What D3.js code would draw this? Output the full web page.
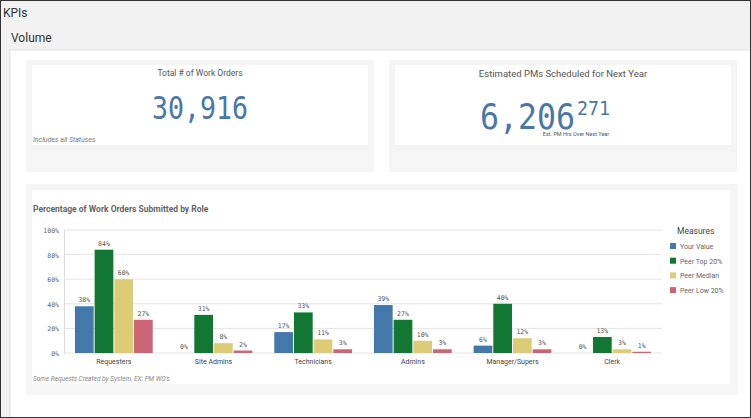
<!DOCTYPE html>
<html><head><meta charset="utf-8">
<script src="https://cdn.jsdelivr.net/npm/d3@7"></script>
<style>body{margin:0;background:#fff;}svg{display:block;}</style>
</head><body><svg width="751" height="418"></svg>
<script>
var roles = ["Requesters","Site Admins","Technicians","Admins","Manager/Supers","Clerk"];
var measures = ["Your Value","Peer Top 20%","Peer Median","Peer Low 20%"];
var colors = ["#4477aa","#117733","#ddcc77","#cc6677"];
var yourValue = [38,0,17,39,6,0];
var peerTop = [84,31,33,27,40,13];
var peerMedian = [60,8,11,10,12,3];
var peerLow = [27,2,3,3,3,1];
var yTicks = [0,20,40,60,80,100];
var series = [yourValue,peerTop,peerMedian,peerLow];

var svg = d3.select("svg");
var f = "Roboto, 'Open Sans', sans-serif";
var mono = "'DejaVu Sans Mono', monospace";
// page frame
svg.append("rect").attr("x",0).attr("y",0).attr("width",751).attr("height",418).attr("fill","#f2f2f2");
svg.append("rect").attr("x",10).attr("y",50).attr("width",741).attr("height",368).attr("fill","#fff").attr("stroke","#e2e2e2");
svg.append("rect").attr("x",0.5).attr("y",0.5).attr("width",750).attr("height",417).attr("fill","none").attr("stroke","#333");
svg.append("text").attr("x",3).attr("y",17).attr("font-family",f).attr("font-size",12).attr("fill","#333").text("KPIs");
svg.append("text").attr("x",11).attr("y",42).attr("font-family",f).attr("font-size",12).attr("fill","#333").text("Volume");

// KPI cards
[[26,32],[389,395]].forEach(function(c){
  svg.append("rect").attr("x",c[0]).attr("y",60).attr("width",348).attr("height",112).attr("fill","#f5f5f5");
  svg.append("rect").attr("x",c[1]).attr("y",65).attr("width",336).attr("height",80).attr("fill","#fff");
});
svg.append("text").attr("x",200).attr("y",76).attr("text-anchor","middle").attr("font-family",f).attr("font-size",8.5).attr("fill","#555").text("Total # of Work Orders");
svg.append("text").attr("x",152).attr("y",119).attr("font-family",mono).attr("font-size",32)
  .attr("textLength",96).attr("lengthAdjust","spacingAndGlyphs").attr("fill","#4a76a8").text("30,916");
svg.append("text").attr("x",33).attr("y",142).attr("font-family",f).attr("font-style","italic").attr("font-size",7).attr("fill","#777").text("Includes all Statuses");
svg.append("text").attr("x",563).attr("y",77).attr("text-anchor","middle").attr("font-family",f).attr("font-size",9.5).attr("fill","#555").text("Estimated PMs Scheduled for Next Year");
svg.append("text").attr("x",480).attr("y",129).attr("font-family",mono).attr("font-size",36)
  .attr("textLength",95).attr("lengthAdjust","spacingAndGlyphs").attr("fill","#4a76a8").text("6,206");
svg.append("text").attr("x",577).attr("y",115).attr("font-family",mono).attr("font-size",19)
  .attr("textLength",33).attr("lengthAdjust","spacingAndGlyphs").attr("fill","#4a76a8").text("271");
svg.append("text").attr("x",576).attr("y",136).attr("text-anchor","middle").attr("font-family",f).attr("font-size",5.5).attr("fill","#555").text("Est. PM Hrs Over Next Year");

// chart card
svg.append("rect").attr("x",26).attr("y",184).attr("width",712).attr("height",211).attr("fill","#f5f5f5");
svg.append("rect").attr("x",32).attr("y",190).attr("width",698).attr("height",194).attr("fill","#fff");
svg.append("text").attr("x",33).attr("y",212).attr("font-family",f).attr("font-weight","bold").attr("font-size",8.5).attr("fill","#666").text("Percentage of Work Orders Submitted by Role");
svg.append("text").attr("x",33).attr("y",381).attr("font-family",f).attr("font-style","italic").attr("font-size",6.5).attr("fill","#888").text("Some Requests Created by System, EX: PM WO's");

var x0 = d3.scaleBand().domain(roles).range([64,662]).paddingInner(0.2).paddingOuter(0.1);
var x1 = d3.scaleBand().domain(measures).range([0,x0.bandwidth()]).padding(0.05);
var y = d3.scaleLinear().domain([0,100]).range([353,230]);

var g = svg.append("g");
g.selectAll("line.grid").data(yTicks).enter().append("line")
  .attr("x1",64).attr("x2",662).attr("y1",function(d){return y(d);}).attr("y2",function(d){return y(d);})
  .attr("stroke","#e4e4e4");
g.append("line").attr("x1",64.5).attr("x2",64.5).attr("y1",230).attr("y2",353).attr("stroke","#ddd");
g.selectAll("text.yt").data(yTicks).enter().append("text")
  .attr("x",59).attr("y",function(d){return y(d)+3;}).attr("text-anchor","end")
  .attr("font-family",mono).attr("font-size",6.5).attr("fill","#666").text(function(d){return d+"%";});

roles.forEach(function(r,i){
  var gr = g.append("g").attr("transform","translate("+x0(r)+",0)");
  var data = measures.map(function(m,j){return {m:m,v:series[j][i],c:colors[j]};});
  gr.selectAll("rect").data(data).enter().append("rect")
    .attr("x",function(d){return x1(d.m);}).attr("width",x1.bandwidth())
    .attr("y",function(d){return y(d.v);}).attr("height",function(d){return 353-y(d.v);})
    .attr("fill",function(d){return d.c;});
  gr.selectAll("text").data(data).enter().append("text")
    .attr("x",function(d){return x1(d.m)+x1.bandwidth()/2;}).attr("y",function(d){return y(d.v)-4;})
    .attr("text-anchor","middle").attr("font-family",mono).attr("font-size",6.5).attr("fill","#555")
    .text(function(d){return d.v+"%";});
  g.append("text").attr("x",x0(r)+x0.bandwidth()/2).attr("y",364).attr("text-anchor","middle")
    .attr("font-family",f).attr("font-size",7).attr("fill","#444").text(r);
});

// legend
svg.append("text").attr("x",677).attr("y",234).attr("font-family",f).attr("font-size",8.5).attr("fill","#444").text("Measures");
measures.forEach(function(m,j){
  var yy = 243 + j*14.7;
  svg.append("rect").attr("x",670).attr("y",yy).attr("width",6).attr("height",6).attr("fill",colors[j]);
  svg.append("text").attr("x",680).attr("y",yy+6).attr("font-family",f).attr("font-size",7).attr("fill","#666").text(m);
});
</script></body></html>
